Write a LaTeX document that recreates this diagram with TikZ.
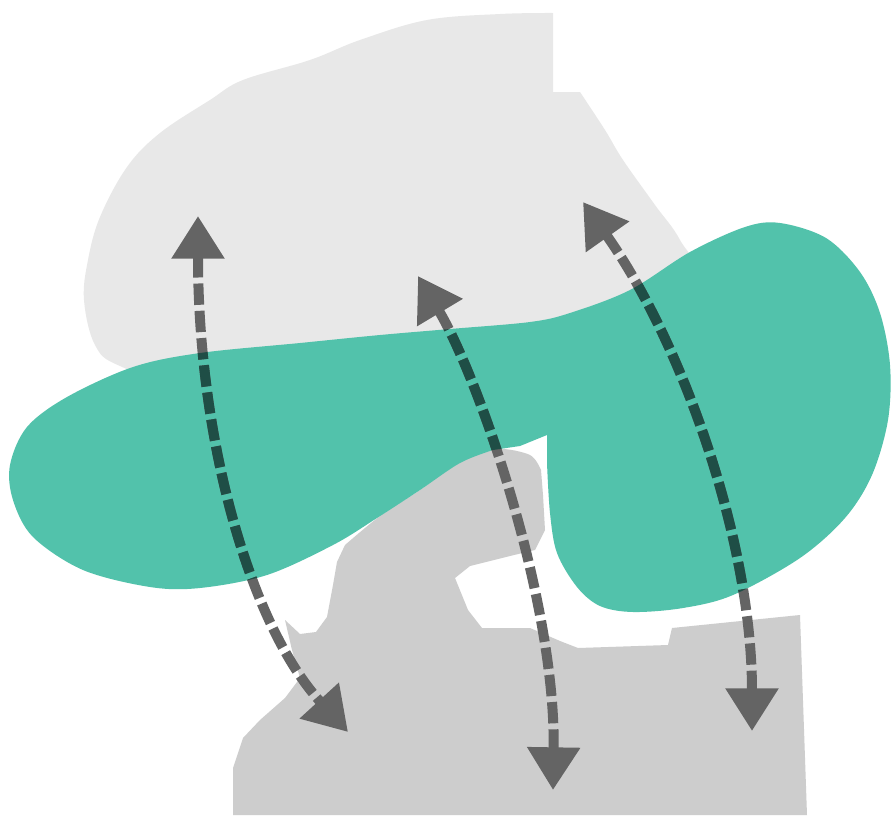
\documentclass[tikz,border=0pt]{standalone}
\usetikzlibrary{arrows.meta}
\definecolor{tealc}{RGB}{82,194,171}
\definecolor{gtop}{RGB}{232,232,232}
\definecolor{gbot}{RGB}{205,205,205}
\definecolor{arrc}{RGB}{100,100,100}
\definecolor{arrdark}{RGB}{31,78,70}
\newcommand\tealpath{plot[smooth, tension=0.55] coordinates {(547,463) (550,513) (557,553) (577,587) (600,606) (633,612) (683,608) (733,595) (800,558) (845,518) (872,475) (888,420) (890,365) (880,313) (860,272) (826,238) (780,223) (745,227) (690,252) (630,290) (570,313) (530,322) (450,329) (380,335) (300,343) (200,353) (133,367) (67,397) (27,427) (10,465) (13,500) (33,537) (83,570) (150,587) (200,588) (267,575) (333,545) (377,518) (420,490) (460,463) (493,450)} -- (520,446) -- (547,435) -- cycle}
\tikzset{
  arr/.style={line width=7.5pt, dash pattern=on 16pt off 4.5pt,
    {Triangle[length=32pt,width=38pt]}-{Triangle[length=32pt,width=38pt]}},
}
\begin{document}
\begin{tikzpicture}[x=0.75pt,y=-0.75pt]
\fill[white] (0,0) rectangle (893,818);
\useasboundingbox (0,0) rectangle (893,818);
% top light gray shape
\fill[gtop] (553,13) -- (553,92) -- plot[smooth,tension=0.6] coordinates {(580,92) (605,130) (623,160) (655,205) (680,240) (700,290) (620,350) (400,380) (200,390) (120,366) (95,345) (84,300) (88,260) (100,217) (127,167) (160,133) (210,100) (243,80) (310,60) (360,40) (427,20) (500,14) (553,13)} -- cycle;
% bottom gray shape
\fill[gbot] (233,815) -- (807,815) -- (800,615) -- (672,628) -- (668,645) -- (578,648) -- (560,641) -- (530,628) -- (482,628) -- (468,610) -- (455,578) -- (470,566) -- (510,556) -- (535,550) -- (545,530) -- (543,495) -- plot[smooth] coordinates {(541,470) (530,455) (497,449) (460,462) (420,490) (380,516) (345,545)} -- (337,562) -- (333,585) -- (327,617) -- (316,632) -- (300,634) -- (285,620) -- (292,650) -- (300,678) -- (285,698) -- (260,720) -- (243,738) -- (233,768) -- cycle;
% teal shape
\fill[tealc] \tealpath;
% arrow end points
\coordinate (a1t) at (198,216);
\coordinate (a1b) at (348,732);
\coordinate (a2t) at (418,276);
\coordinate (a2b) at (553,790);
\coordinate (a3t) at (583,202);
\coordinate (a3b) at (752,731);
% arrows
\draw[arr, draw=arrc] (a1t) .. controls (198,440) and (250,625) .. (a1b);
\draw[arr, draw=arrc] (a2t) .. controls (478,376) and (556,600) .. (a2b);
\draw[arr, draw=arrc] (a3t) .. controls (682,342) and (752,540) .. (a3b);
\begin{scope}
\clip \tealpath;
\draw[arr, draw=arrdark] (a1t) .. controls (198,440) and (250,625) .. (a1b);
\draw[arr, draw=arrdark] (a2t) .. controls (478,376) and (556,600) .. (a2b);
\draw[arr, draw=arrdark] (a3t) .. controls (682,342) and (752,540) .. (a3b);
\end{scope}
\end{tikzpicture}
\end{document}
